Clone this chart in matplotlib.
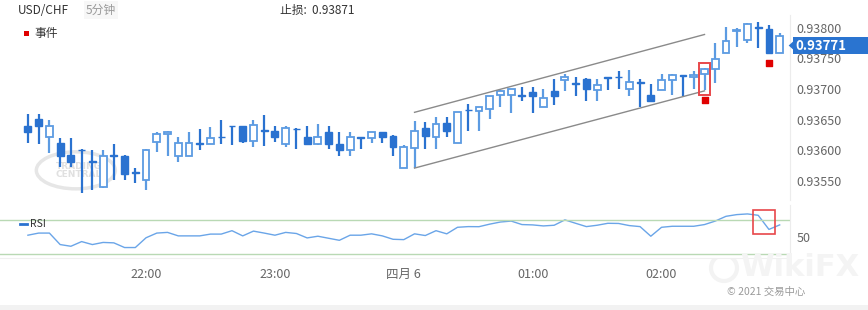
import numpy as np
import matplotlib
matplotlib.use("Agg")
import matplotlib.pyplot as plt
from matplotlib.patches import Rectangle, Ellipse, Polygon
from matplotlib.lines import Line2D

plt.rcParams['font.family'] = ['Noto Sans CJK SC', 'DejaVu Sans']

symbol = "USD/CHF"
period = "5分钟"
stop_loss = "0.93871"
last_price = 0.93771

# 5分钟K线 21:05 - 02:55, 价格单位 1e-5
opens = np.array([93640, 93651, 93621, 93612, 93592, 93601, 93582, 93540, 93592, 93591,
                  93564, 93552, 93613, 93626, 93591, 93591, 93612, 93610, 93622, 93640,
                  93639, 93616, 93633, 93631, 93611, 93635, 93621, 93611, 93630, 93611,
                  93601, 93621, 93620, 93630, 93623, 93571, 93603, 93636, 93621, 93645,
                  93612, 93666, 93664, 93667, 93690, 93691, 93690, 93695, 93670, 93696,
                  93714, 93709, 93717, 93699, 93719, 93720, 93700, 93711, 93691, 93699,
                  93715, 93723, 93719, 93724, 93733, 93759, 93794, 93780, 93801, 93798,
                  93759]) / 1e5
highs = np.array([93660, 93660, 93650, 93620, 93620, 93602, 93601, 93601, 93610, 93592,
                  93571, 93602, 93630, 93631, 93621, 93630, 93634, 93638, 93650, 93640,
                  93640, 93650, 93657, 93640, 93640, 93637, 93640, 93643, 93640, 93630,
                  93630, 93621, 93630, 93630, 93625, 93609, 93648, 93647, 93654, 93654,
                  93662, 93676, 93670, 93689, 93698, 93700, 93703, 93703, 93700, 93717,
                  93724, 93720, 93718, 93717, 93719, 93730, 93731, 93717, 93708, 93724,
                  93724, 93723, 93729, 93735, 93775, 93801, 93800, 93808, 93809, 93804,
                  93791]) / 1e5
lows = np.array([93612, 93610, 93595, 93573, 93573, 93530, 93536, 93539, 93552, 93552,
                 93547, 93536, 93597, 93590, 93581, 93591, 93601, 93610, 93610, 93608,
                 93612, 93606, 93607, 93613, 93606, 93602, 93608, 93609, 93602, 93591,
                 93591, 93602, 93612, 93612, 93591, 93571, 93571, 93602, 93602, 93621,
                 93612, 93631, 93631, 93651, 93670, 93661, 93680, 93661, 93670, 93674,
                 93697, 93688, 93680, 93680, 93699, 93700, 93689, 93671, 93680, 93699,
                 93691, 93689, 93700, 93699, 93710, 93759, 93768, 93775, 93767, 93759,
                 93759]) / 1e5
closes = np.array([93630, 93640, 93640, 93591, 93581, 93600, 93581, 93591, 93591, 93561,
                   93563, 93601, 93626, 93630, 93612, 93612, 93611, 93620, 93621, 93639,
                   93615, 93641, 93632, 93621, 93637, 93634, 93610, 93621, 93611, 93601,
                   93621, 93620, 93630, 93621, 93606, 93606, 93631, 93624, 93643, 93631,
                   93662, 93665, 93670, 93689, 93697, 93700, 93689, 93689, 93686, 93688,
                   93719, 93708, 93700, 93707, 93718, 93719, 93712, 93710, 93680, 93715,
                   93723, 93722, 93723, 93733, 93749, 93779, 93797, 93806, 93800, 93759,
                   93786]) / 1e5

rsi = [52, 54.5, 54.5, 41, 39, 44.5, 41, 43.5, 43, 37.5,
       37.5, 49, 54.5, 55.3, 51.2, 51.2, 51.2, 53.3, 53.3, 57.3,
       51.2, 56.8, 54.5, 52, 55.3, 54, 48.8, 50.8, 48.4, 46,
       52, 52, 53.6, 51.2, 47.2, 46.8, 53.6, 51.6, 57.3, 53.6,
       61.3, 62.1, 62, 65, 67.5, 68.6, 64.5, 64.1, 62.9, 63.7,
       70, 66, 62.1, 63.7, 66, 65.8, 63.3, 62.1, 50.8, 61.3,
       62.5, 62.5, 62.5, 64.5, 68.6, 74.2, 76.2, 77, 75.4, 58.8,
       64.1]

tick_pos = [11, 23, 35, 47, 59]
tick_labels = ["22:00", "23:00", "四月 6", "01:00", "02:00"]
price_ticks = [0.93550, 0.93600, 0.93650, 0.93700, 0.93750, 0.93800]

# 通道线
channel_x = [36, 63]
channel_upper = [0.93662, 0.93789]
channel_lower = [0.93571, 0.93697]

# 事件
event_idx = [63, 69]
event_price = [0.93682, 0.93742]

up_edge = '#5c9be2'
down_face = '#2a72d0'

fig = plt.figure(figsize=(8.68, 3.10), dpi=100)
ax = fig.add_axes([0, 0.355, 0.910, 0.597])
ax_rsi = fig.add_axes([0, 0.168, 0.910, 0.171])

x = np.arange(len(opens))
bearish = closes < opens
body_low = np.minimum(opens, closes)
body_h = np.maximum(np.abs(closes - opens), 0.000012)

# 影线
ax.vlines(x[bearish], lows[bearish], highs[bearish], color=down_face, lw=1.6, zorder=2)
ax.vlines(x[~bearish], lows[~bearish], highs[~bearish], color=up_edge, lw=1.6, zorder=2)
# 实体
ax.bar(x[bearish], body_h[bearish], 0.64, bottom=body_low[bearish],
       color=down_face, edgecolor=down_face, lw=1, zorder=3)
ax.bar(x[~bearish], body_h[~bearish], 0.64, bottom=body_low[~bearish],
       color='white', edgecolor=up_edge, lw=1.3, zorder=3)

ax.plot(channel_x, channel_upper, color='#8a8a8a', lw=1, zorder=4)
ax.plot(channel_x, channel_lower, color='#8a8a8a', lw=1, zorder=4)

ax.add_patch(Rectangle((62.45, 0.93691), 1.1, 0.00052, fill=False,
                       edgecolor='#e8474a', lw=1.4, zorder=5))
ax.scatter(event_idx, event_price, marker='s', s=22, color='#e00000', zorder=5)

ax.set_xlim(-2.6, 70.95)
ax.set_ylim(0.93519, 0.93821)
ax.set_xticks([])
ax.yaxis.tick_right()
ax.set_yticks(price_ticks)
ax.set_yticklabels([f"{p:.5f}" for p in price_ticks])
ax.tick_params(axis='y', length=0, pad=5, labelsize=9, labelcolor='#666666')
for side in ['top', 'left', 'bottom']:
    ax.spines[side].set_visible(False)
ax.spines['right'].set_color('#ececec')

# 当前价格标签
tr = ax.get_yaxis_transform()
ax.add_patch(Rectangle((1.0038, last_price - 0.000131), 0.1, 0.000262, transform=tr,
                       facecolor='#2a74d0', edgecolor='none', clip_on=False, zorder=6))
ax.add_patch(Polygon([(0.9985, last_price), (1.0045, last_price + 0.00007),
                      (1.0045, last_price - 0.00007)], closed=True, transform=tr,
                     facecolor='#2a74d0', edgecolor='none', clip_on=False, zorder=6))
ax.text(1.0075, last_price, f"{last_price:.5f}", transform=tr, color='white',
        fontsize=9.5, fontweight='bold', va='center', ha='left', zorder=7)

# 水印
ax.add_patch(Ellipse((0.096, 0.16), 0.1, 0.2, transform=ax.transAxes, fill=False,
                     edgecolor='#e6e6e6', lw=2.5, zorder=1))
ax.text(0.1, 0.16, "TRADING\nCENTRAL", transform=ax.transAxes, ha='center', va='center',
        fontsize=6.5, fontweight='bold', color='#e0e0e0', family='DejaVu Sans',
        linespacing=0.9, zorder=1)

# RSI
ax_rsi.plot(x, rsi, color='#6aa5e8', lw=1)
ax_rsi.axhline(70, color='#b9d9b4', lw=1)
ax_rsi.axhline(30, color='#b9d9b4', lw=1)
ax_rsi.add_patch(Rectangle((67.5, 53.3), 2.05, 28, fill=False,
                           edgecolor='#e8474a', lw=1.2, zorder=5))
ax_rsi.set_xlim(-2.6, 70.95)
ax_rsi.set_ylim(25.3, 87.6)
ax_rsi.yaxis.tick_right()
ax_rsi.set_yticks([50])
ax_rsi.set_yticklabels(["50"])
ax_rsi.tick_params(axis='y', length=0, pad=5, labelsize=9, labelcolor='#666666')
ax_rsi.set_xticks(tick_pos)
ax_rsi.set_xticklabels(tick_labels)
ax_rsi.tick_params(axis='x', length=0, pad=7, labelsize=9, labelcolor='#666666')
for side in ['top', 'left']:
    ax_rsi.spines[side].set_visible(False)
ax_rsi.spines['right'].set_color('#ececec')
ax_rsi.spines['bottom'].set_color('#f0f0f0')

# 表头
fig.text(18 / 868, 1 - 10 / 310, symbol, fontsize=8.5, color='#333333', va='center')
fig.text(86 / 868, 1 - 10 / 310, period, fontsize=8.5, color='#999999', va='center',
         bbox=dict(facecolor='#f7f7f7', edgecolor='none', pad=1.5))
fig.text(280 / 868, 1 - 10 / 310, "止损:  " + stop_loss, fontsize=8.5, color='#333333',
         va='center')
fig.patches.append(Rectangle((24 / 868, 1 - 36 / 310), 5 / 868, 5 / 310,
                             transform=fig.transFigure, facecolor='#e00000',
                             edgecolor='none'))
fig.text(34 / 868, 1 - 33.5 / 310, "事件", fontsize=8.5, color='#333333', va='center')

fig.add_artist(Line2D([20 / 868, 27 / 868], [1 - 224 / 310, 1 - 224 / 310],
                      color='#2a72d0', lw=2))
fig.text(30 / 868, 1 - 224 / 310, "RSI", fontsize=7.5, color='#333333', va='center')

# WikiFX 水印
fig.add_artist(Ellipse((724 / 868, 1 - 268 / 310), 26 / 868, 26 / 310,
                       transform=fig.transFigure, fill=False, edgecolor='#f3f3f3',
                       lw=3, zorder=0))
fig.text(800 / 868, 1 - 267 / 310, "WikiFX", fontsize=22, fontweight='bold',
         color='#f4f4f4', ha='center', va='center', family='DejaVu Sans', zorder=0)
fig.text(727 / 868, 1 - 292 / 310, "© 2021 交易中心", fontsize=7.5, color='#9a9a9a',
         va='center')
fig.patches.append(Rectangle((0, 0), 1, 5 / 310, transform=fig.transFigure,
                             facecolor='#f2f2f2', edgecolor='none'))

fig.savefig("out.png", dpi=100)
